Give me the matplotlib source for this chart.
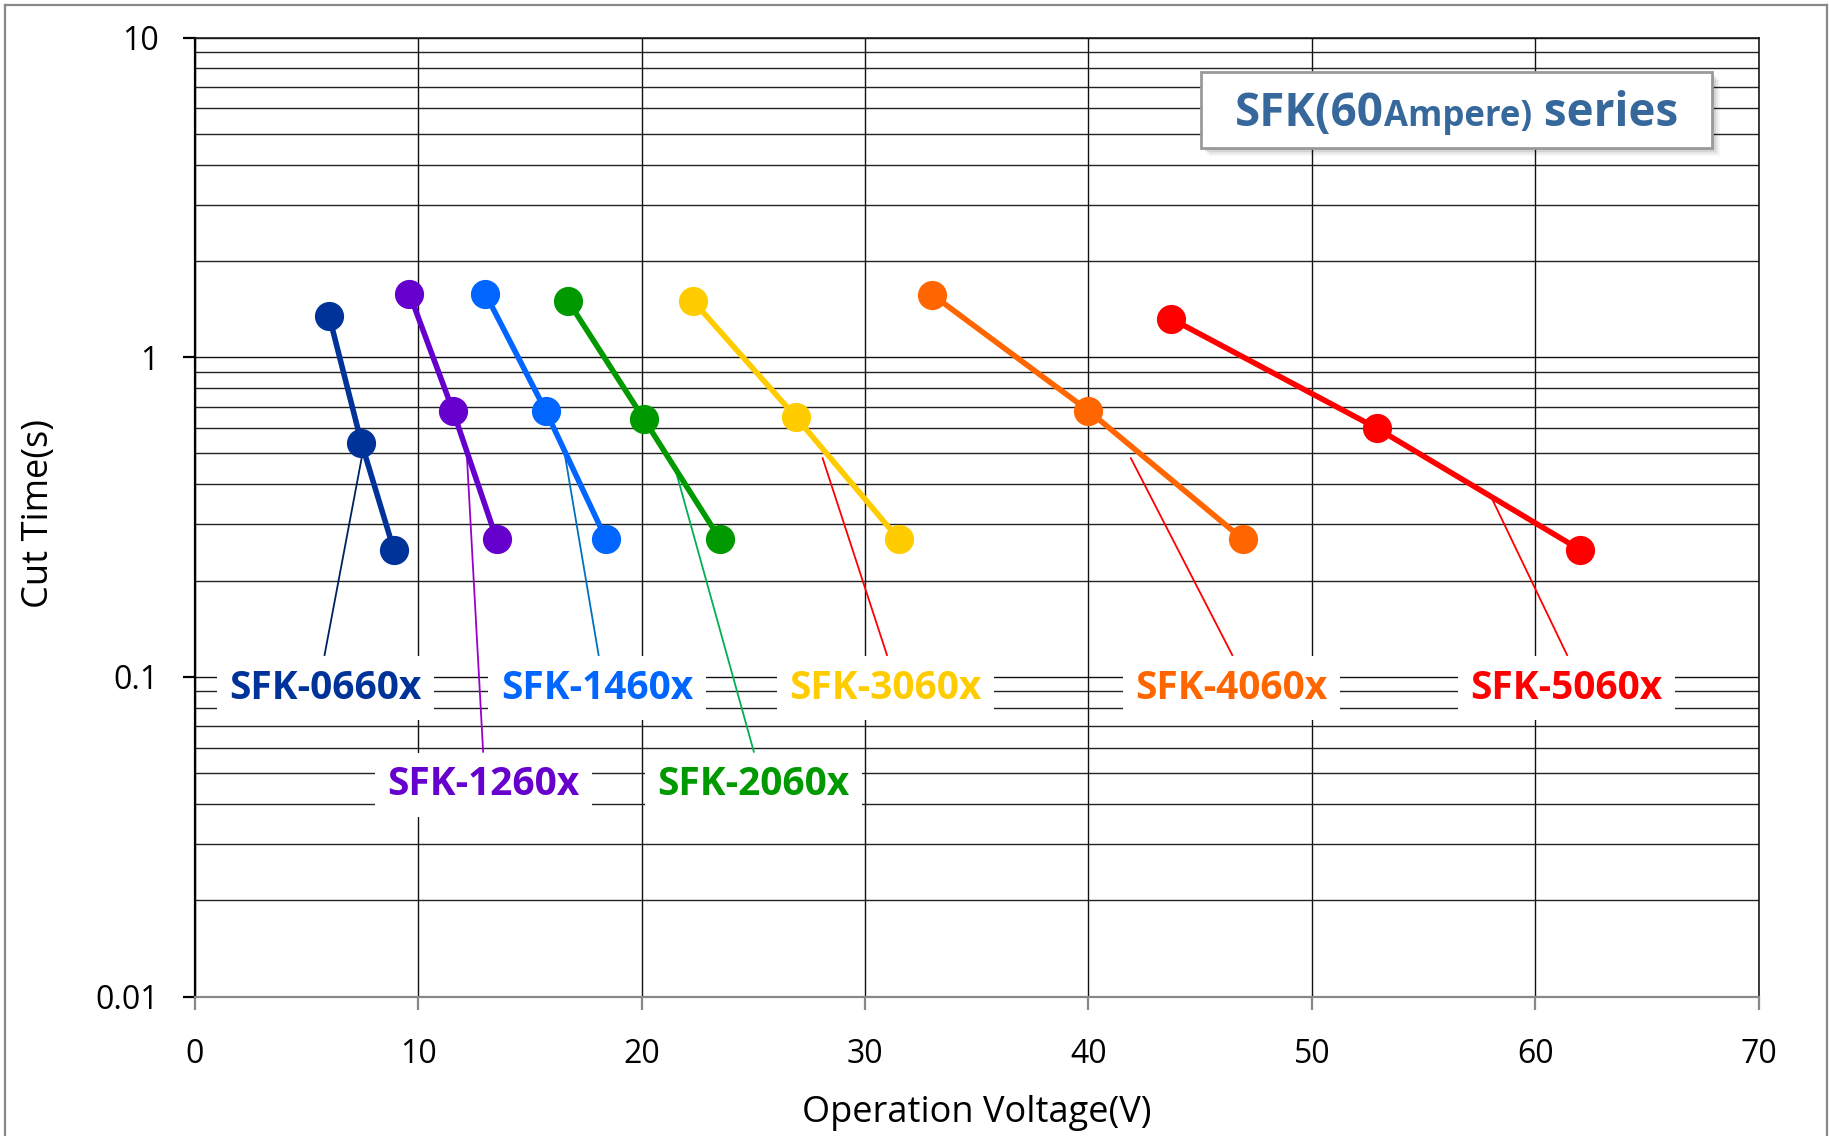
import matplotlib
matplotlib.use("Agg")
import matplotlib.pyplot as plt
from matplotlib.patches import Rectangle
from matplotlib.ticker import LogLocator, FixedLocator, FixedFormatter, NullFormatter

# ---------------- data ----------------
series_names = ["SFK-0660x", "SFK-1260x", "SFK-1460x", "SFK-2060x",
                "SFK-3060x", "SFK-4060x", "SFK-5060x"]
series_colors = ["#003399", "#6600CC", "#0066FF", "#009900",
                 "#FFCC00", "#FF6600", "#FF0000"]
leader_colors = ["#002060", "#9900CC", "#0070C0", "#00B050",
                 "#FF0000", "#FF0000", "#FF0000"]

volt_0660 = [6.0, 7.45, 8.9]
cut_0660 = [1.35, 0.54, 0.25]
volt_1260 = [9.6, 11.55, 13.5]
cut_1260 = [1.58, 0.68, 0.27]
volt_1460 = [13.0, 15.7, 18.4]
cut_1460 = [1.58, 0.68, 0.27]
volt_2060 = [16.7, 20.1, 23.5]
cut_2060 = [1.50, 0.64, 0.27]
volt_3060 = [22.3, 26.9, 31.5]
cut_3060 = [1.50, 0.65, 0.27]
volt_4060 = [33.0, 40.0, 46.9]
cut_4060 = [1.57, 0.68, 0.27]
volt_5060 = [43.7, 52.9, 62.0]
cut_5060 = [1.32, 0.60, 0.25]

all_volts = [volt_0660, volt_1260, volt_1460, volt_2060, volt_3060, volt_4060, volt_5060]
all_cuts = [cut_0660, cut_1260, cut_1460, cut_2060, cut_3060, cut_4060, cut_5060]

# label positions (data coords) and leader lines
label_x = [5.85, 12.9, 18.0, 25.0, 30.9, 46.4, 61.4]
label_y = [0.092, 0.046, 0.092, 0.046, 0.092, 0.092, 0.092]
leader_x0 = [7.47, 12.17, 16.56, 21.47, 28.1, 41.9, 58.0]
leader_y0 = [0.487, 0.495, 0.495, 0.455, 0.483, 0.483, 0.369]
leader_x1 = [5.80, 12.90, 18.07, 25.02, 30.98, 46.44, 61.43]
leader_y1 = [0.117, 0.0583, 0.117, 0.0583, 0.117, 0.117, 0.117]

x_ticks = [0, 10, 20, 30, 40, 50, 60, 70]
y_ticks = [0.01, 0.1, 1, 10]
y_tick_labels = ["0.01", "0.1", "1", "10"]

title_main = "SFK(60"
title_small = "Ampere)"
title_end = " series"
x_label = "Operation Voltage(V)"
y_label = "Cut Time(s)"

# ---------------- figure ----------------
plt.rcParams["font.family"] = ["Open Sans", "DejaVu Sans"]
W, H = 1829, 1136
fig = plt.figure(figsize=(W / 100, H / 100), dpi=100)

# outer frame
fig.add_artist(plt.Line2D([5 / W, 5 / W], [0, 1 - 5 / H], color="#888888", lw=1.6, transform=fig.transFigure))
fig.add_artist(plt.Line2D([5 / W, 1827 / W], [1 - 5 / H, 1 - 5 / H], color="#888888", lw=1.6, transform=fig.transFigure))
fig.add_artist(plt.Line2D([1827 / W, 1827 / W], [0, 1 - 5 / H], color="#888888", lw=1.6, transform=fig.transFigure))

ax = fig.add_axes([195 / W, 1 - 996.5 / H, (1758.5 - 195) / W, (996.5 - 37.5) / H])
ax.set_xlim(0, 70)
ax.set_yscale("log")
ax.set_ylim(0.01, 10)

ax.xaxis.set_major_locator(FixedLocator(x_ticks))
ax.yaxis.set_major_locator(FixedLocator(y_ticks))
ax.yaxis.set_major_formatter(FixedFormatter(y_tick_labels))
ax.yaxis.set_minor_locator(LogLocator(base=10, subs=range(2, 10)))
ax.yaxis.set_minor_formatter(NullFormatter())

ax.grid(True, which="major", axis="both", color="#111111", lw=1.0, zorder=0)
ax.grid(True, which="minor", axis="y", color="#222222", lw=1.0, zorder=0)
ax.set_axisbelow(True)

for s in ["top", "right"]:
    ax.spines[s].set_color("#1a1a1a")
    ax.spines[s].set_linewidth(1.2)
ax.spines["left"].set_color("#000000")
ax.spines["left"].set_linewidth(1.6)
ax.spines["bottom"].set_color("#888888")
ax.spines["bottom"].set_linewidth(1.6)

ax.tick_params(axis="y", which="major", direction="out", length=9, width=1.6,
               color="#000000", labelsize=23, pad=17, labelcolor="#000000")
ax.tick_params(axis="y", which="minor", length=0)
ax.tick_params(axis="x", which="major", direction="out", length=9, width=1.6,
               color="#888888", labelsize=23, pad=21, labelcolor="#000000")

ax.set_xlabel(x_label, fontsize=26)
ax.set_ylabel(y_label, fontsize=26)
ax.xaxis.set_label_coords(0.5, -0.103)
ax.yaxis.set_label_coords(-0.088, 0.504)

# series
for v, c, col in zip(all_volts, all_cuts, series_colors):
    ax.plot(v, c, color=col, lw=4.0, marker="o", markersize=20,
            markerfacecolor=col, markeredgecolor=col, zorder=4, solid_capstyle="round")

# leader lines and labels
for i, name in enumerate(series_names):
    ax.plot([leader_x0[i], leader_x1[i]], [leader_y0[i], leader_y1[i]],
            color=leader_colors[i], lw=1.3, zorder=3)
    ax.text(label_x[i], label_y[i], name, color=series_colors[i], fontsize=28,
            fontweight="bold", ha="center", va="center", zorder=5,
            bbox=dict(boxstyle="square,pad=0.32", facecolor="white", edgecolor="none"))

# title box
bx0, by0, bx1, by1 = 1201, 72, 1712, 148
for k, a in enumerate([0.10, 0.08, 0.06, 0.04]):
    off = 2 + k * 2
    fig.add_artist(Rectangle(((bx0 + off) / W, 1 - (by1 + off) / H),
                             (bx1 - bx0) / W, (by1 - by0) / H,
                             transform=fig.transFigure, facecolor="black",
                             edgecolor="none", alpha=a, zorder=8))
fig.add_artist(Rectangle((bx0 / W, 1 - by1 / H), (bx1 - bx0) / W, (by1 - by0) / H,
                         transform=fig.transFigure, facecolor="white",
                         edgecolor="#9a9a9a", lw=2.0, zorder=9))

tcol = "#36689C"
base_y = 1 - 126 / H
fig.canvas.draw()
renderer = fig.canvas.get_renderer()
t1 = fig.text(0, base_y, title_main, fontsize=33, fontweight="bold", color=tcol,
              va="baseline", ha="left", zorder=10)
t2 = fig.text(0, base_y, title_small, fontsize=25, fontweight="bold", color=tcol,
              va="baseline", ha="left", zorder=10)
t3 = fig.text(0, base_y, title_end, fontsize=33, fontweight="bold", color=tcol,
              va="baseline", ha="left", zorder=10)
w1 = t1.get_window_extent(renderer).width
w2 = t2.get_window_extent(renderer).width
w3 = t3.get_window_extent(renderer).width
total = w1 + w2 + w3
start = (bx0 + bx1) / 2 - total / 2
t1.set_x(start / W)
t2.set_x((start + w1) / W)
t3.set_x((start + w1 + w2) / W)

fig.savefig("out.png", dpi=100, facecolor="white")
